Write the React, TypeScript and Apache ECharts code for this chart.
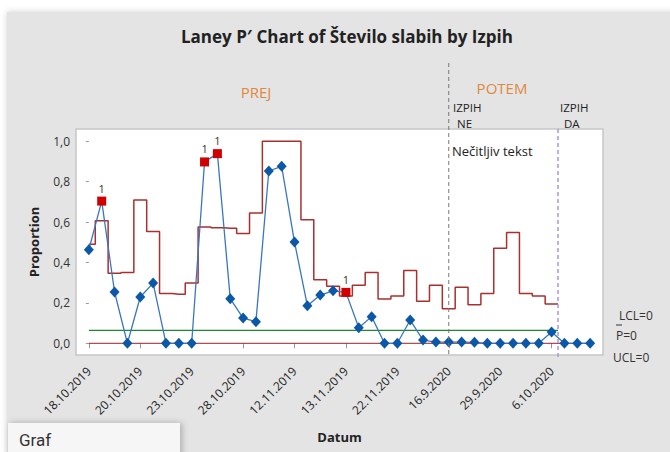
import { useEffect, useRef } from "react";
import * as echarts from "echarts";

// ---- data ----
const dateLabels = [
  "18.10.2019", "20.10.2019", "23.10.2019", "28.10.2019", "12.11.2019",
  "13.11.2019", "22.11.2019", "16.9.2020", "29.9.2020", "6.10.2020",
];
const tickEvery = 4;
const proportions = [
  0.463, 0.704, 0.254, 0, 0.229, 0.298, 0, 0, 0, 0.898,
  0.939, 0.221, 0.125, 0.107, 0.853, 0.876, 0.501, 0.186, 0.239, 0.26,
  0.252, 0.077, 0.132, 0, 0, 0.115, 0.016, 0.006, 0.006, 0.006,
  0.005, 0, 0, 0, 0, 0, 0.056, 0, 0, 0,
];
const uclValues = [
  0.49, 0.607, 0.347, 0.351, 0.709, 0.554, 0.246, 0.243, 0.298, 0.576,
  0.572, 0.57, 0.544, 0.645, 1.0, 1.0, 1.0, 0.612, 0.315, 0.282,
  0.234, 0.287, 0.351, 0.219, 0.234, 0.36, 0.208, 0.287, 0.171, 0.277,
  0.191, 0.247, 0.47, 0.549, 0.247, 0.234, 0.195,
];
const centerValue = 0.064;
const lclValue = 0;
const lclEnd = 39.3;
const outOfControl = [1, 9, 10, 20];
const stageBoundary = 36.5;
const annotationX = 28;
const yTicks = [0, 0.2, 0.4, 0.6, 0.8, 1.0];

const FONT = "'Open Sans', 'Noto Sans', sans-serif";

export default function App() {
  const ref = useRef<HTMLDivElement>(null);
  useEffect(() => {
    const chart = echarts.init(ref.current!, null, { renderer: "svg" });
    const xTicks = dateLabels.map((_, i) => i * tickEvery);

    const pointData = proportions.map((v, i) =>
      outOfControl.includes(i)
        ? {
            value: [i, v],
            symbol: "rect",
            symbolSize: 9,
            itemStyle: { color: "#d00000" },
            label: {
              show: true,
              formatter: "1",
              position: "top",
              distance: 3,
              color: "#333",
              fontSize: 11,
              fontFamily: FONT,
            },
          }
        : { value: [i, v] }
    );
    const uclData: number[][] = uclValues.map((v, i) => [i, v]);
    uclData.push([stageBoundary, uclValues[uclValues.length - 1]]);

    const txt = (x: number, y: number, text: string, fill: string, fontSize: number, align = "left") => ({
      type: "text",
      x,
      y,
      style: { text, fill, fontSize, fontFamily: FONT, align, verticalAlign: "middle" },
    });

    const baseGraphic = (extra: any[]) => [
      {
        type: "rect",
        z: -100,
        silent: true,
        shape: { x: 7, y: 12, width: 670, height: 445 },
        style: { fill: "#e4e4e4", shadowBlur: 6, shadowColor: "rgba(0,0,0,0.18)" },
      },
      txt(256, 92, "PREJ", "#e0883e", 15, "center"),
      txt(502, 88, "POTEM", "#e0883e", 15, "center"),
      txt(453, 107, "IZPIH", "#222", 11.5),
      txt(457, 123, "NE", "#222", 11.5),
      txt(560, 107, "IZPIH", "#222", 11.5),
      txt(564, 123, "DA", "#222", 11.5),
      txt(452, 151, "Nečitljiv tekst", "#222", 13),
      txt(619, 315, "LCL=0", "#333", 12),
      txt(616, 335, "P=0", "#333", 12),
      {
        type: "line",
        shape: { x1: 616, y1: 325, x2: 622, y2: 325 },
        style: { stroke: "#333", lineWidth: 1 },
      },
      txt(613, 357, "UCL=0", "#333", 12),
      {
        type: "rect",
        shape: { x: 8, y: 423, width: 172, height: 40 },
        style: { fill: "#f6f6f6", shadowBlur: 6, shadowOffsetX: 2, shadowColor: "rgba(0,0,0,0.25)" },
      },
      {
        type: "text", x: 19, y: 440,
        style: { text: "Graf", fill: "#333", fontSize: 17, fontFamily: "Roboto, sans-serif", align: "left", verticalAlign: "middle" },
      },
      ...extra,
    ];

    const option: any = {
      animation: false,
      backgroundColor: "#ffffff",
      title: {
        text: "Laney P′ Chart of Število slabih by Izpih",
        left: 176,
        top: 23,
        textStyle: { fontSize: 17, fontWeight: "bold", color: "#222", fontFamily: FONT },
      },
      grid: {
        left: 76, right: 67, top: 129, bottom: 97,
        show: true, backgroundColor: "#ffffff", borderColor: "#c6c6c6", borderWidth: 1.5,
      },
      xAxis: {
        type: "value",
        min: -1,
        max: 40,
        splitLine: { show: false },
        axisLine: { show: false },
        axisTick: { show: true, customValues: xTicks, length: 5, lineStyle: { color: "#999" } },
        axisLabel: {
          customValues: xTicks,
          formatter: (v: number) => dateLabels[Math.round(v / tickEvery)] ?? "",
          rotate: 45,
          fontSize: 12,
          color: "#222",
          margin: 14,
          fontFamily: FONT,
        },
        name: "Datum",
        nameLocation: "middle",
        nameGap: 75,
        nameTextStyle: { fontSize: 13, fontWeight: "bold", color: "#222", fontFamily: FONT },
      },
      yAxis: {
        type: "value",
        min: -0.058,
        max: 1.061,
        splitLine: { show: false },
        axisLine: { show: false },
        axisTick: { show: true, customValues: yTicks, length: 3, lineStyle: { color: "#999" } },
        axisLabel: {
          customValues: yTicks,
          formatter: (v: number) => v.toFixed(1).replace(".", ","),
          fontSize: 12,
          color: "#333",
          margin: 6,
          fontFamily: FONT,
        },
        name: "Proportion",
        nameLocation: "middle",
        nameGap: 36,
        nameTextStyle: { fontSize: 13, fontWeight: "bold", color: "#222", fontFamily: FONT },
      },
      series: [
        {
          type: "line",
          name: "LCL",
          data: [[0, lclValue], [lclEnd, lclValue]],
          symbol: "none",
          lineStyle: { color: "#952226", width: 1 },
          z: 1,
        },
        {
          type: "line",
          name: "P",
          data: [[0, centerValue], [stageBoundary, centerValue]],
          symbol: "none",
          lineStyle: { color: "#1c8a2c", width: 1.2 },
          z: 1,
        },
        {
          type: "line",
          name: "UCL",
          data: uclData,
          step: "middle",
          symbol: "none",
          lineStyle: { color: "#a8302f", width: 1.5 },
          z: 2,
        },
        {
          type: "line",
          name: "Proportion",
          data: pointData,
          symbol: "diamond",
          symbolSize: [10, 11],
          showAllSymbol: true,
          itemStyle: { color: "#0b58a8" },
          lineStyle: { color: "#3a76c0", width: 1.3 },
          z: 5,
        },
      ],
      graphic: baseGraphic([]),
    };
    chart.setOption(option);

    const stagePx = chart.convertToPixel({ gridIndex: 0 }, [stageBoundary, 0]);
    const annPx = chart.convertToPixel({ gridIndex: 0 }, [annotationX, 0]);
    chart.setOption({
      graphic: baseGraphic([
        {
          type: "line",
          z: 10,
          shape: { x1: annPx[0], y1: 63, x2: annPx[0], y2: 356 },
          style: { stroke: "#777", lineWidth: 1, lineDash: [4, 3] },
        },
        {
          type: "line",
          z: 10,
          shape: { x1: stagePx[0], y1: 129, x2: stagePx[0], y2: 360 },
          style: { stroke: "#a996e2", lineWidth: 1.5, lineDash: [4, 3] },
        },
      ]),
    });

    return () => chart.dispose();
  }, []);

  return (
    <div style={{ position: "fixed", left: 0, top: 0, width: 670, height: 452, background: "#fff" }}>
      <div ref={ref} style={{ width: 670, height: 452 }} />
    </div>
  );
}
